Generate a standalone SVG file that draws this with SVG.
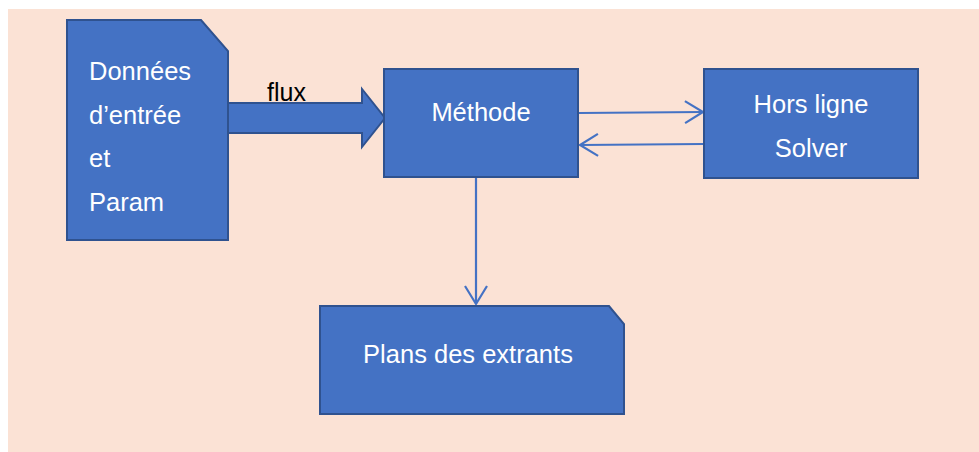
<svg xmlns="http://www.w3.org/2000/svg" width="979" height="452" viewBox="0 0 979 452">
  <style>
    .shape { fill: #4472C4; stroke: #2F528F; stroke-width: 2; }
    .label { fill: #FFFFFF; font-family: "Liberation Sans", Arial, sans-serif; font-size: 25.5px; }
    .mid { text-anchor: middle; }
    .link { fill: none; stroke: #4472C4; stroke-width: 2.2; }
    .caption { fill: #000000; font-family: "Liberation Sans", Arial, sans-serif; font-size: 25px; }
  </style>
  <defs>
    <marker id="open-head" markerWidth="22" markerHeight="26" refX="19" refY="12" orient="auto" markerUnits="userSpaceOnUse">
      <path d="M1,1 L19,12 L1,23" fill="none" stroke="#4472C4" stroke-width="2.2"/>
    </marker>
  </defs>

  <!-- page background -->
  <rect x="0" y="0" width="979" height="452" fill="#FFFFFF"/>
  <rect x="8" y="9" width="971" height="443" fill="#FBE2D5"/>

  <!-- connectors -->
  <g id="connectors">
    <path id="flux-arrow" class="shape" stroke-width="1.5" d="M228,103 L362,103 L362,89 L385,118 L362,147 L362,133 L228,133 Z"/>
    <text class="caption" x="267" y="101">flux</text>
    <line class="link" x1="579" y1="113" x2="703" y2="112" marker-end="url(#open-head)"/>
    <line class="link" x1="703" y1="144" x2="580" y2="145" marker-end="url(#open-head)"/>
    <line class="link" x1="476" y1="178" x2="476" y2="304" marker-end="url(#open-head)"/>
  </g>

  <!-- input document -->
  <g id="node-donnees">
    <path class="shape" d="M67,20 L201,20 L228,51 L228,240 L67,240 Z"/>
    <text class="label" x="89" y="80">Données</text>
    <text class="label" x="89" y="124">d’entrée</text>
    <text class="label" x="89" y="167">et</text>
    <text class="label" x="89" y="211">Param</text>
  </g>

  <!-- method -->
  <g id="node-methode">
    <rect class="shape" x="384" y="69" width="194" height="108"/>
    <text class="label mid" x="481" y="121">Méthode</text>
  </g>

  <!-- offline solver -->
  <g id="node-solver">
    <rect class="shape" x="704" y="69" width="214" height="109"/>
    <text class="label mid" x="811" y="113">Hors ligne</text>
    <text class="label mid" x="811" y="157">Solver</text>
  </g>

  <!-- output plans -->
  <g id="node-plans">
    <path class="shape" d="M320,306 L609,306 L624,324 L624,414 L320,414 Z"/>
    <text class="label mid" x="468" y="363">Plans des extrants</text>
  </g>
</svg>
